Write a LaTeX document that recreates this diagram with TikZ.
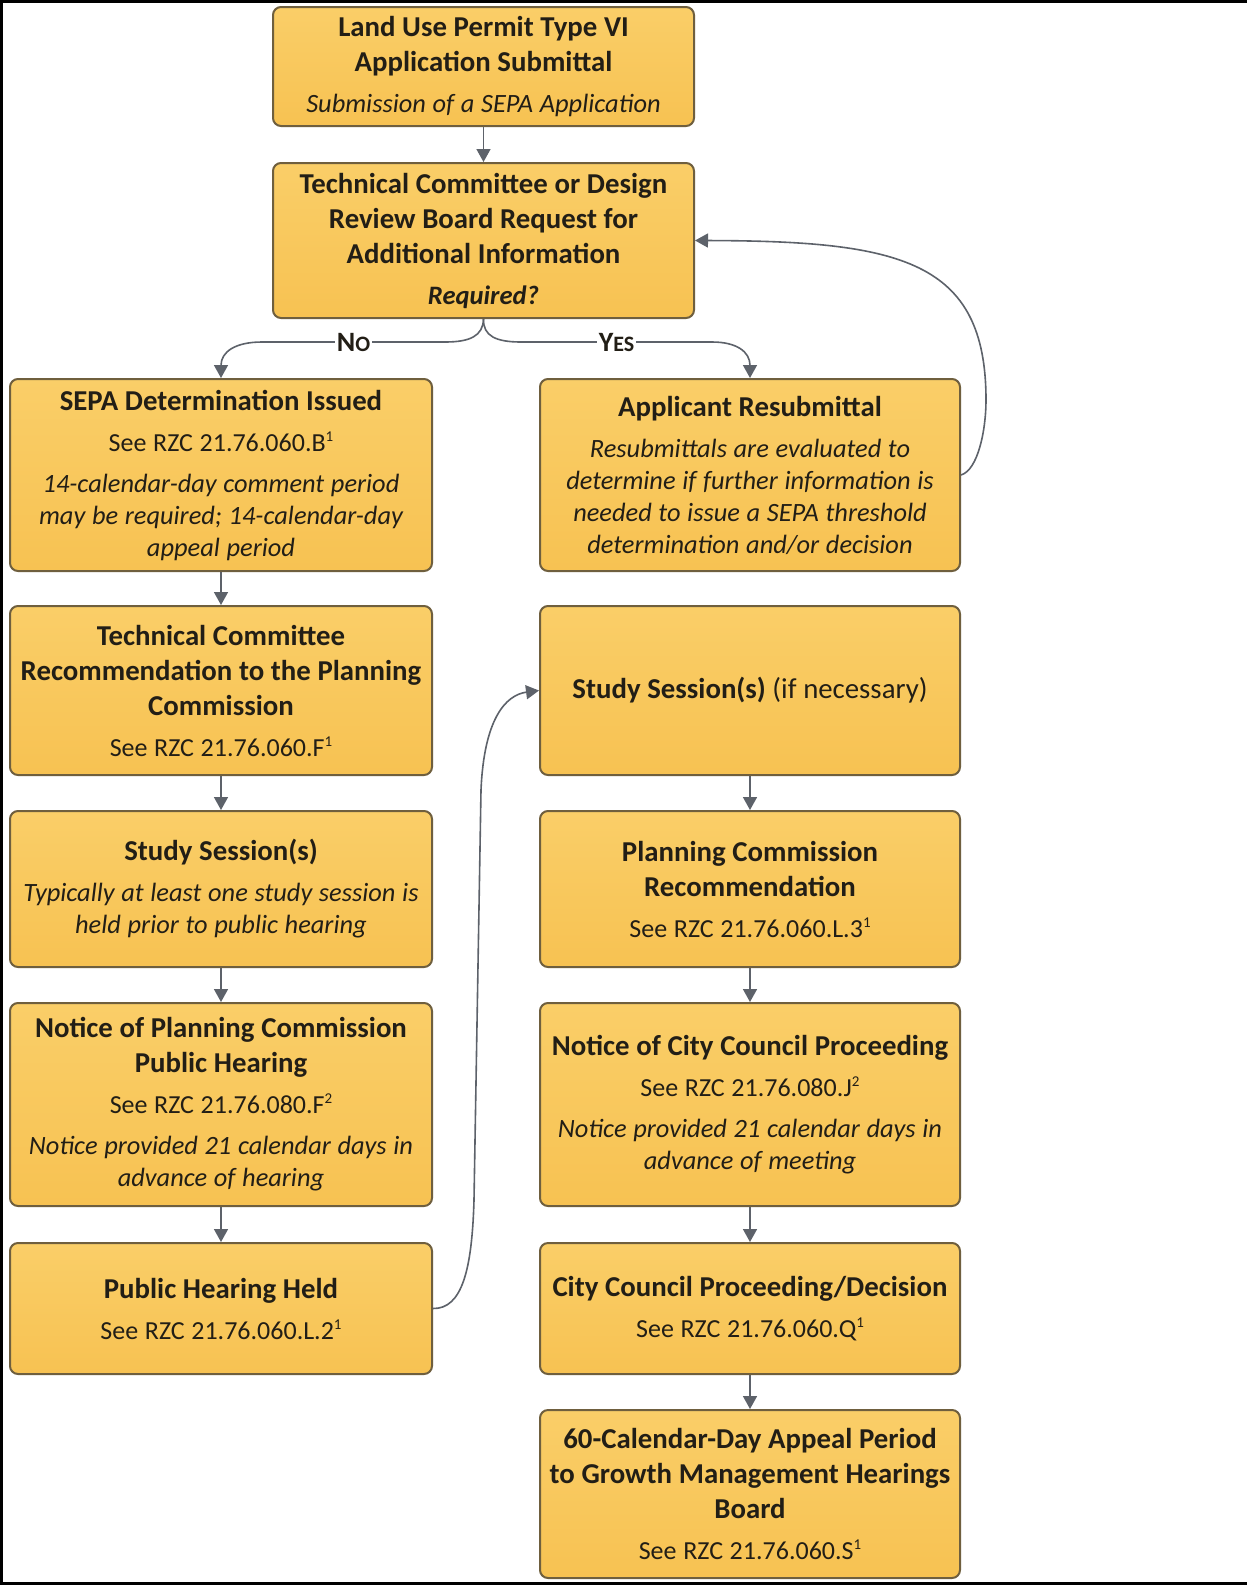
\documentclass[tikz,border=0pt]{standalone}
\usepackage{fontspec}
\setmainfont{Carlito}
\usetikzlibrary{arrows.meta}

\definecolor{boxtop}{HTML}{FACE68}
\definecolor{boxbot}{HTML}{F7C252}
\definecolor{boxline}{HTML}{6F5F3E}
\definecolor{arrowcol}{HTML}{5D626A}
\definecolor{txt}{HTML}{221E16}

% text styles inside the boxes
\newcommand\ttl{\fontsize{14.4}{17.5}\selectfont\bfseries\upshape}
\newcommand\rf{\fontsize{13}{16}\selectfont\mdseries\upshape}
\newcommand\itl{\fontsize{13.2}{16}\selectfont\mdseries\itshape}
\newcommand\gap{\vspace{4.5pt}}
\newcommand\fn[1]{\raisebox{5pt}{\fontsize{7.5}{8}\selectfont #1}}

\tikzset{
  x=0.5pt, y=-0.5pt,
  stepbox/.style={draw=boxline, line width=1pt, rounded corners=4pt,
    top color=boxtop, bottom color=boxbot, align=center, inner sep=0pt,
    text=txt},
  leftcol/.style={minimum width=211pt, text width=210pt},
  rightcol/.style={minimum width=210pt, text width=209pt},
  topcol/.style={minimum width=210.5pt, text width=209pt},
  flow/.style={draw=arrowcol, line width=0.8pt,
    -{Triangle[length=6.5pt,width=7pt]}},
  branch/.style={fill=white, inner sep=1pt, text=txt,
    font=\fontsize{14}{15}\selectfont\bfseries},
}

\begin{document}
\begin{tikzpicture}
\useasboundingbox (0,0) rectangle (1247,1585);
\fill[white] (0,0) rectangle (1247,1585);
% page frame (open on the right)
\draw[line width=1.5pt] (1247,1.5) -- (1.5,1.5) -- (1.5,1583.5) -- (1247,1583.5);

% top boxes
\node[stepbox, topcol, minimum height=59.5pt] (submit) at (483.5,66.5)
  {{\ttl Land Use Permit Type VI\\Application Submittal\par}\gap
   {\itl Submission of a SEPA Application\par}};
\node[stepbox, topcol, minimum height=77.5pt] (request) at (483.5,240.5)
  {{\ttl Technical Committee or Design\\Review Board Request for\\Additional Information\par}\gap
   {\fontsize{13.3}{16}\selectfont\bfseries\itshape Required?\par}};

% left column
\node[stepbox, leftcol, minimum height=96pt] (sepa) at (221,475)
  {{\ttl SEPA Determination Issued\par}\gap
   {\rf See RZC 21.76.060.B\fn{1}\par}\gap
   {\itl 14-calendar-day comment period\\may be required; 14-calendar-day\\appeal period\par}};
\node[stepbox, leftcol, minimum height=84.5pt] (tcrec) at (221,690.5)
  {{\ttl Technical Committee\\Recommendation to the Planning\\Commission\par}\gap
   {\rf See RZC 21.76.060.F\fn{1}\par}};
\node[stepbox, leftcol, minimum height=78pt] (studyl) at (221,889)
  {{\ttl Study Session(s)\par}\gap
   {\itl Typically at least one study session is\\held prior to public hearing\par}};
\node[stepbox, leftcol, minimum height=101.5pt] (noticepc) at (221,1104.5)
  {{\ttl Notice of Planning Commission\\Public Hearing\par}\gap
   {\rf See RZC 21.76.080.F\fn{2}\par}\gap
   {\itl Notice provided 21 calendar days in\\advance of hearing\par}};
\node[stepbox, leftcol, minimum height=65.5pt] (hearing) at (221,1308.5)
  {{\ttl Public Hearing Held\par}\gap
   {\rf See RZC 21.76.060.L.2\fn{1}\par}};

% right column
\node[stepbox, rightcol, minimum height=96pt] (resub) at (750,475)
  {{\ttl Applicant Resubmittal\par}\gap
   {\itl Resubmittals are evaluated to\\determine if further information is\\needed to issue a SEPA threshold\\determination and/or decision\par}};
\node[stepbox, rightcol, minimum height=84.5pt] (studyr) at (750,690.5)
  {{\ttl Study Session(s) {\mdseries(if necessary)}\par}};
\node[stepbox, rightcol, minimum height=78pt] (pcrec) at (750,889)
  {{\ttl Planning Commission\\Recommendation\par}\gap
   {\rf See RZC 21.76.060.L.3\fn{1}\par}};
\node[stepbox, rightcol, minimum height=101.5pt] (noticecc) at (750,1104.5)
  {{\ttl Notice of City Council Proceeding\par}\gap
   {\rf See RZC 21.76.080.J\fn{2}\par}\gap
   {\itl Notice provided 21 calendar days in\\advance of meeting\par}};
\node[stepbox, rightcol, minimum height=65.5pt] (decision) at (750,1308.5)
  {{\ttl City Council Proceeding/Decision\par}\gap
   {\rf See RZC 21.76.060.Q\fn{1}\par}};
\node[stepbox, rightcol, minimum height=84pt] (appeal) at (750,1494)
  {{\ttl 60-Calendar-Day Appeal Period\\to Growth Management Hearings\\Board\par}\gap
   {\rf See RZC 21.76.060.S\fn{1}\par}};

% straight connectors
\draw[flow] (submit.south) -- (request.north);
\draw[flow] (sepa.south) -- (tcrec.north);
\draw[flow] (tcrec.south) -- (studyl.north);
\draw[flow] (studyl.south) -- (noticepc.north);
\draw[flow] (noticepc.south) -- (hearing.north);
\draw[flow] (studyr.south) -- (pcrec.north);
\draw[flow] (pcrec.south) -- (noticecc.north);
\draw[flow] (noticecc.south) -- (decision.north);
\draw[flow] (decision.south) -- (appeal.north);

% decision branches
\coordinate (nol) at (445,342);
\coordinate (nor) at (262,342);
\coordinate (yesl) at (521,342);
\coordinate (yesr) at (712,342);
\draw[flow] (request.south) .. controls (483,336) and (470,342) .. (nol)
  -- node[branch] (nolabel) {N{\fontsize{11}{12}\selectfont O}} (nor)
  .. controls (235,342) and (221,352) .. (sepa.north);
\draw[flow] (request.south) .. controls (483,336) and (496,342) .. (yesl)
  -- node[branch] (yeslabel) {Y{\fontsize{11}{12}\selectfont ES}} (yesr)
  .. controls (737,342) and (750,352) .. (resub.north);

% loop back for more information
\coordinate (loop) at (986,400);
\draw[flow] (resub.east) .. controls (978,470) and (986,430) .. (loop)
  .. controls (986,260) and (900,241) .. (request.east);

% from the hearing to the council study session
\coordinate (riseb) at (474,1200);
\coordinate (riset) at (481,790);
\draw[flow] (hearing.east) .. controls (462,1309) and (472,1270) .. (riseb)
  -- (riset) .. controls (484,720) and (505,695) .. (studyr.west);
\end{tikzpicture}
\end{document}
